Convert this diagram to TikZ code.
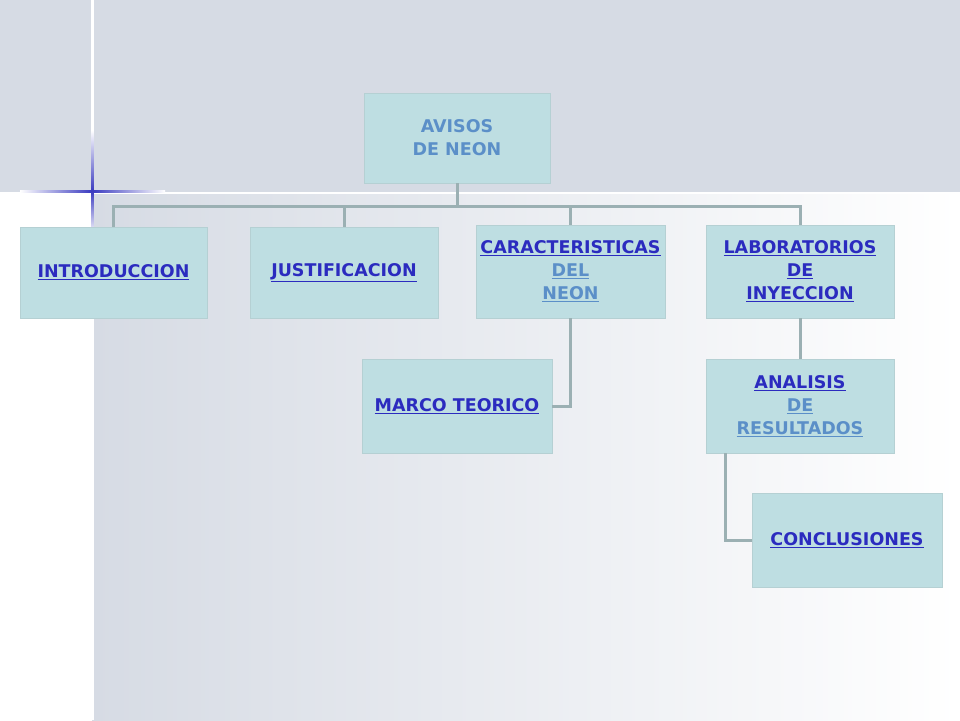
\documentclass[tikz,border=0pt]{standalone}
\usepackage{fontspec}
\setmainfont{DejaVu Sans}
\usetikzlibrary{positioning}
\definecolor{bgg}{HTML}{D6DBE4}
\definecolor{boxc}{HTML}{BEDEE2}
\definecolor{linec}{HTML}{9BB0B3}
\definecolor{dk}{HTML}{2B2BBF}
\definecolor{lt}{HTML}{5B8FC8}
\definecolor{star}{HTML}{3A3AC0}
\tikzset{
  box/.style={fill=boxc,draw=boxc!85!gray,line width=0.6pt,minimum width=#1,align=center,font=\bfseries\fontsize{17.5}{23}\selectfont,text=dk},
  conn/.style={draw=linec,line width=3pt}
}
\newcommand{\uldk}[1]{\underline{#1}}
\begin{document}
\begin{tikzpicture}[x=1pt,y=-1pt]
\useasboundingbox (0,0) rectangle (960,720);
\fill[white] (0,0) rectangle (960,720);
\shade[left color=bgg,right color=white] (92,193) rectangle (960,720);
\fill[bgg] (0,0) rectangle (960,193);
\fill[white] (0,191.5) rectangle (960,194);
\fill[white] (91,0) rectangle (93.5,720);
% star
\shade[left color=white,right color=star] (20,190) rectangle (92,192.5);
\shade[left color=star,right color=white] (92,190) rectangle (165,192.5);
\shade[top color=white,bottom color=star] (91,130) rectangle (93.5,191);
\shade[top color=star,bottom color=white] (91,191) rectangle (93.5,235);
% nodes
\node[box=186pt,minimum height=90pt,text=lt] (av) at (457,138) {AVISOS\\DE NEON};
\node[box=187pt,minimum height=91pt] (in) at (113.5,272.5) {\uldk{INTRODUCCION}};
\node[box=188pt,minimum height=91pt] (ju) at (344,272.5) {\uldk{JUSTIFICACION}};
\node[box=189pt,minimum height=93pt] (ca) at (570.5,271.5) {\uldk{CARACTERISTICAS}\\\textcolor{lt}{\uldk{DEL}}\\\textcolor{lt}{\uldk{NEON}}};
\node[box=188pt,minimum height=93pt] (la) at (800,271.5) {\uldk{LABORATORIOS}\\\uldk{DE}\\\uldk{INYECCION}};
\node[box=190pt,minimum height=94pt] (ma) at (457,406) {\uldk{MARCO TEORICO}};
\node[box=188pt,minimum height=94pt] (an) at (800,406) {\uldk{ANALISIS}\\\textcolor{lt}{\uldk{DE}}\\\textcolor{lt}{\uldk{RESULTADOS}}};
\node[box=190pt,minimum height=94pt] (co) at (847,540) {\uldk{CONCLUSIONES}};
% connectors
\coordinate (h) at (457,206);
\draw[conn] (av.south) -- (h);
\draw[conn] (in.north) |- (h);
\draw[conn] (ju.north) |- (h);
\draw[conn] (ca.north) |- (h);
\draw[conn] (la.north) |- (h);
\draw[conn] (ca.south) |- (ma.east);
\draw[conn] (la.south) -- (an.north);
\draw[conn] ([xshift=-75pt]an.south) |- (co.west);
\end{tikzpicture}
\end{document}
